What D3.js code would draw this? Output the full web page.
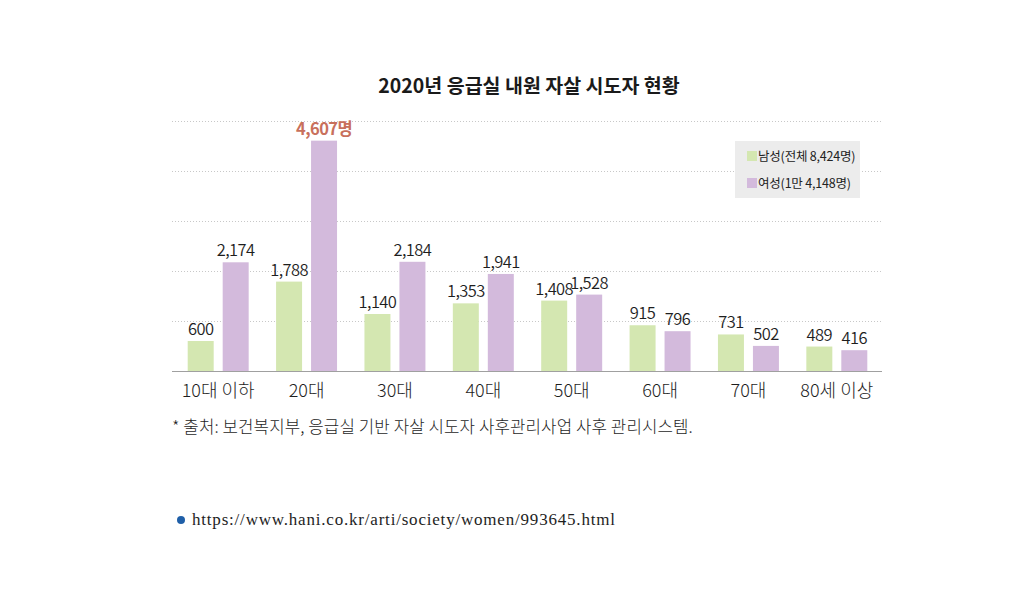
<!DOCTYPE html>
<html>
<head>
<meta charset="utf-8">
<script src="https://cdn.jsdelivr.net/npm/d3@7"></script>
<style>
  html, body { margin: 0; padding: 0; background: #fff; }
  svg { display: block; }
</style>
</head>
<body>
<svg id="chart" width="1024" height="612"></svg>
<script>
const categories = ["10대 이하", "20대", "30대", "40대", "50대", "60대", "70대", "80세 이상"];
const series = ["남성", "여성"];
const legendLabels = ["남성(전체 8,424명)", "여성(1만 4,148명)"];
const maleValues = [600, 1788, 1140, 1353, 1408, 915, 731, 489];
const femaleValues = [2174, 4607, 2184, 1941, 1528, 796, 502, 416];
const gridTicks = [1000, 2000, 3000, 4000, 5000];
const title = "2020년 응급실 내원 자살 시도자 현황";
const note = "* 출처: 보건복지부, 응급실 기반 자살 시도자 사후관리사업 사후 관리시스템.";
const url = "https://www.hani.co.kr/arti/society/women/993645.html";

const colors = { "남성": "#d4e7b1", "여성": "#d3badc" };
const font = "'Noto Sans CJK KR', 'Noto Sans', sans-serif";

const svg = d3.select("#chart");
const x0 = 172, x1 = 882, yBase = 371;

const x = d3.scaleBand().domain(categories).range([174, 881]).paddingInner(0.31).paddingOuter(0.155);
const xs = d3.scaleBand().domain(series).range([0, x.bandwidth()]).paddingInner(0.257).paddingOuter(0);
const y = d3.scaleLinear().domain([0, 5000]).range([yBase, 121]);

// title
svg.append("text").attr("x", 529).attr("y", 93).attr("text-anchor", "middle")
  .attr("font-family", font).attr("font-weight", 700).attr("font-size", 19.5).attr("fill", "#1a1a1a")
  .text(title);

// gridlines
svg.append("g").selectAll("line").data(gridTicks).join("line")
  .attr("x1", x0).attr("x2", x1)
  .attr("y1", d => y(d) + 0.5).attr("y2", d => y(d) + 0.5)
  .attr("stroke", "#c8c8c8").attr("stroke-width", 1).attr("stroke-dasharray", "1,2");

// data rows
const rows = categories.map((c, i) => ({ cat: c, vals: [
  { s: "남성", v: maleValues[i] }, { s: "여성", v: femaleValues[i] } ] }));

const groups = svg.append("g").selectAll("g").data(rows).join("g")
  .attr("transform", d => `translate(${x(d.cat)},0)`);

groups.selectAll("rect").data(d => d.vals).join("rect")
  .attr("x", d => xs(d.s)).attr("width", xs.bandwidth())
  .attr("y", d => y(d.v)).attr("height", d => yBase - y(d.v))
  .attr("fill", d => colors[d.s]);

const fmt = d3.format(",");
groups.selectAll("text.val").data(d => d.vals).join("text").attr("class", "val")
  .attr("x", d => xs(d.s) + xs.bandwidth() / 2)
  .attr("y", d => y(d.v) - 6)
  .attr("text-anchor", "middle")
  .attr("font-family", font)
  .attr("font-size", 16.5)
  .attr("font-weight", d => d.v === 4607 ? 700 : 350)
  .attr("fill", d => d.v === 4607 ? "#c8705c" : "#1e1e1e")
  .attr("letter-spacing", "-0.6")
  .text(d => d.v === 4607 ? fmt(d.v) + "명" : fmt(d.v));

// baseline
svg.append("line").attr("x1", x0).attr("x2", x1).attr("y1", yBase + 0.5).attr("y2", yBase + 0.5)
  .attr("stroke", "#a0a0a0").attr("stroke-width", 1.2);

// x axis labels
const xAxis = d3.axisBottom(x).tickSize(0).tickPadding(0);
const gx = svg.append("g").attr("transform", `translate(0,${yBase})`).call(xAxis);
gx.select(".domain").remove();
gx.selectAll("text").attr("font-family", font).attr("font-size", 18).attr("font-weight", 300)
  .attr("fill", "#1e1e1e").attr("dy", 0).attr("y", 26);

// legend
const lg = svg.append("g");
lg.append("rect").attr("x", 735).attr("y", 141).attr("width", 125).attr("height", 57).attr("fill", "#ececec");
series.forEach((s, i) => {
  lg.append("rect").attr("x", 747).attr("y", 151 + i * 27).attr("width", 10).attr("height", 10).attr("fill", colors[s]);
  lg.append("text").attr("x", 758).attr("y", 161 + i * 27).attr("font-family", font).attr("font-size", 12.5)
    .attr("fill", "#222").attr("letter-spacing", "-0.2").text(legendLabels[i]);
});

// note
svg.append("text").attr("x", 172).attr("y", 433).attr("font-family", font).attr("font-size", 16.8)
  .attr("font-weight", 300).attr("letter-spacing", "0.1").attr("fill", "#1e1e1e").text(note);

// url
svg.append("circle").attr("cx", 181).attr("cy", 520).attr("r", 4).attr("fill", "#1f5fa8");
svg.append("text").attr("x", 192).attr("y", 525).attr("font-family", "'Liberation Serif', 'DejaVu Serif', serif")
  .attr("font-size", 17).attr("letter-spacing", "0.8").attr("fill", "#1e1e1e").text(url);
</script>
</body>
</html>
